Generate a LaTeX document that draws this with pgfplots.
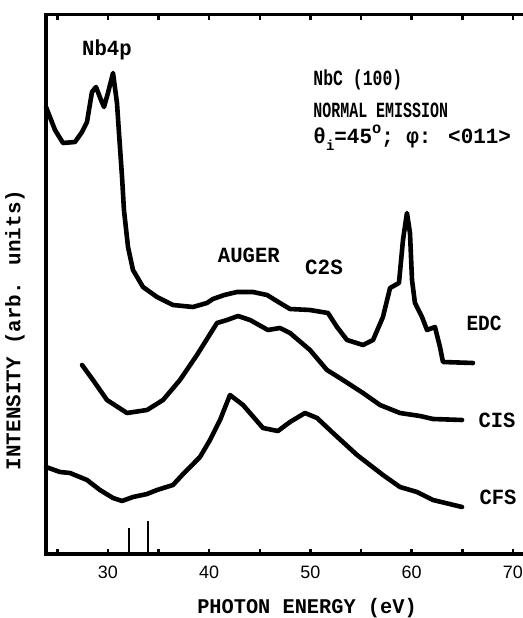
\documentclass[border=0pt]{standalone}
\usepackage{fontspec}
\usepackage{graphicx}
\usepackage{pgfplots}
\pgfplotsset{compat=1.18}
\setmainfont{Liberation Mono}
\newfontfamily\tickfont{Liberation Sans}
\newcommand\lab[3]{\scalebox{#1}[#2]{\fontsize{15}{15}\selectfont\bfseries #3}}
\begin{document}
\begin{tikzpicture}
\useasboundingbox (0,0) rectangle (523bp,618bp);
\begin{axis}[
  at={(46bp,64bp)}, anchor=south west,
  scale only axis, width=487bp, height=539bp,
  xmin=23.88, xmax=71.98, ymin=0, ymax=539,
  axis line style={line width=3bp},
  xtick={25,30,...,70}, ytick=\empty,
  xticklabels={,30,,40,,50,,60,,70},
  xticklabel pos=lower, xtick pos=both,
  tick align=inside, major tick length=5bp,
  tick style={line width=2.5bp, black},
  xticklabel style={font=\tickfont\fontsize{18}{18}\selectfont, yshift=-8bp},
  /pgf/number format/assume math mode=true,
  clip=false,
]
% EDC
\addplot[black, line width=4.6bp, line join=round, line cap=round] coordinates {
(23.88,447) (24.77,424) (25.56,411) (26.74,412) (27.44,422) (27.93,432)
(28.42,462) (28.82,467) (29.31,454) (29.61,447) (30.00,461) (30.50,481)
(30.89,451) (31.09,421) (31.39,377) (31.58,344) (31.98,307) (32.47,284)
(33.46,267) (34.84,257) (36.42,249) (38.40,247) (39.78,251) (40.37,255)
(41.50,259) (42.74,262) (44.32,262) (45.71,259) (46.99,251) (47.98,245)
(49.95,244) (51.73,241) (52.62,227) (53.61,214) (55.19,209) (56.18,214)
(57.16,237) (57.86,266) (58.74,271) (59.14,314) (59.53,341) (59.83,321)
(60.03,274) (60.32,251) (61.02,237) (61.51,224) (62.30,227) (62.79,207)
(63.09,192) (66.05,191)
};
% CIS
\addplot[black, line width=4.6bp, line join=round, line cap=round] coordinates {
(27.44,189) (28.52,174) (29.90,154) (31.88,141) (33.86,144) (35.44,154)
(37.11,174) (38.79,199) (40.77,231) (41.76,234) (42.84,238) (44.03,234)
(45.80,224) (46.99,226) (47.98,221) (49.95,204) (51.63,184) (53.21,174)
(55.19,161) (56.87,149) (58.84,141) (60.82,138) (62.10,135) (64.97,134)
};
% CFS
\addplot[black, line width=4.6bp, line join=round, line cap=round] coordinates {
(23.88,87) (25.26,82) (26.25,81) (27.93,74) (29.21,64) (30.50,56)
(31.39,53) (32.47,57) (33.86,60) (34.84,64) (36.42,69) (37.61,82)
(39.09,97) (40.08,114) (41.07,134) (42.05,159) (43.34,149) (45.31,126)
(46.79,123) (47.98,132) (49.46,141) (50.65,136) (52.23,121) (54.60,99)
(57.16,79) (58.84,67) (60.52,62) (62.10,54) (64.97,47)
};
% markers
\addplot[black, ycomb, line width=1.8bp, no marks] coordinates {(32.07,26) (33.95,33)};

\node at (axis cs:29.90,504) {\lab{1.38}{1.45}{Nb4p}};
\node[anchor=west] at (axis cs:49.95,474) {\lab{1.1}{1.45}{NbC (100)}};
\node[anchor=west] at (axis cs:49.95,444) {\lab{1.0}{1.45}{NORMAL EMISSION}};
\node[anchor=west] at (axis cs:49.95,416) {\lab{1.4}{1.45}{θ\raisebox{-0.6ex}{\fontsize{10}{10}\selectfont i}=45\raisebox{0.9ex}{\fontsize{11}{11}\selectfont o}; φ: <011>}};
\node at (axis cs:43.92,299) {\lab{1.38}{1.45}{AUGER}};
\node at (axis cs:51.34,287) {\lab{1.4}{1.45}{C2S}};
\node at (axis cs:67.14,231) {\lab{1.3}{1.45}{EDC}};
\node at (axis cs:68.42,134) {\lab{1.37}{1.45}{CIS}};
\node at (axis cs:68.52,57) {\lab{1.37}{1.45}{CFS}};
\node at (axis cs:49.66,-54) {\lab{1.36}{1.4}{PHOTON ENERGY (eV)}};
\node[rotate=90] at (axis cs:20.82,224) {\lab{1.4}{1.4}{INTENSITY (arb. units)}};
\end{axis}
\end{tikzpicture}
\end{document}
